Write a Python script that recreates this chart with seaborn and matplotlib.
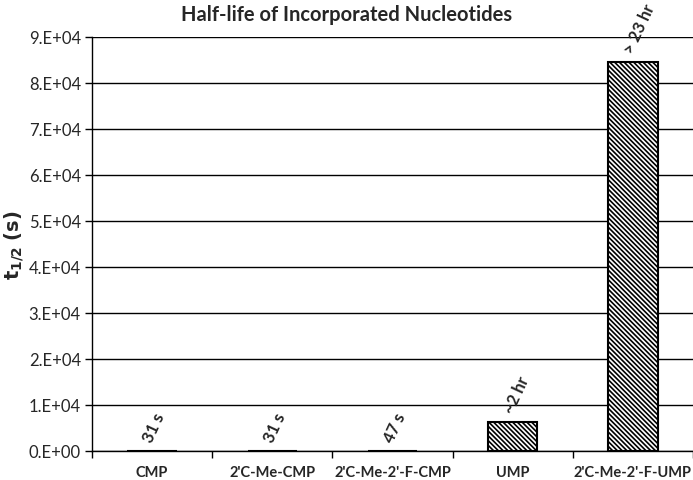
import matplotlib
matplotlib.use("Agg")
import matplotlib.pyplot as plt
import seaborn as sns
import pandas as pd
import numpy as np

nucleotides = ["CMP", "2'C-Me-CMP", "2'C-Me-2'-F-CMP", "UMP", "2'C-Me-2'-F-UMP"]
half_life_s = [31, 31, 47, 6300, 84600]
bar_notes = ["31 s", "31 s", "47 s", "~2 hr", "> 23 hr"]
y_ticks = [0, 10000, 20000, 30000, 40000, 50000, 60000, 70000, 80000, 90000]
y_tick_labels = ["0.E+00", "1.E+04", "2.E+04", "3.E+04", "4.E+04",
                 "5.E+04", "6.E+04", "7.E+04", "8.E+04", "9.E+04"]

df = pd.DataFrame({"nucleotide": nucleotides, "t_half": half_life_s})

sns.set_style("white")
plt.rcParams["font.family"] = ["Lato", "DejaVu Sans"]
plt.rcParams["hatch.linewidth"] = 1.2

fig = plt.figure(figsize=(6.93, 4.81), dpi=100)
ax = fig.add_axes([92 / 693, 1 - 452 / 481, 601 / 693, 414 / 481])

sns.barplot(data=df, x="nucleotide", y="t_half", color="white",
            edgecolor="black", linewidth=1.5, width=0.41, ax=ax)
for bar in ax.patches:
    bar.set_hatch("\\\\\\\\\\\\\\")

ax.set_ylim(0, 90000)
ax.set_xlim(-0.5, 4.5)
ax.set_yticks(y_ticks)
ax.set_yticklabels(y_tick_labels, fontsize=12)
ax.yaxis.grid(True, color="black", linewidth=1)
ax.set_axisbelow(True)

ax.set_xticks(range(len(nucleotides)))
ax.set_xticklabels(nucleotides, fontsize=10.5, fontweight="bold")
ax.set_xticks(np.arange(-0.5, 5, 1), minor=True)
ax.tick_params(axis="x", which="major", length=0, pad=10)
ax.tick_params(axis="x", which="minor", length=5, width=1, color="black",
               direction="out", bottom=True)
ax.tick_params(axis="y", length=5, width=1, color="black", direction="out",
               left=True, pad=3)

for side in ["top", "right"]:
    ax.spines[side].set_visible(False)
for side in ["left", "bottom"]:
    ax.spines[side].set_color("black")
    ax.spines[side].set_linewidth(1)

ax.set_xlabel("")
ax.set_ylabel(r"$\mathbf{t_{1/2}\ (s)}$", fontsize=14, labelpad=2)

for i, (val, note) in enumerate(zip(half_life_s, bar_notes)):
    ax.annotate(note, (i, val), xytext=(-3, 7), textcoords="offset points",
                rotation=65, rotation_mode="anchor", ha="left", va="center",
                fontsize=12, fontweight="bold", annotation_clip=False)

fig.text(0.5, 1 - 15 / 481, "Half-life of Incorporated Nucleotides",
         ha="center", va="center", fontsize=14.5, fontweight="bold")

fig.savefig("out.png", dpi=100)
